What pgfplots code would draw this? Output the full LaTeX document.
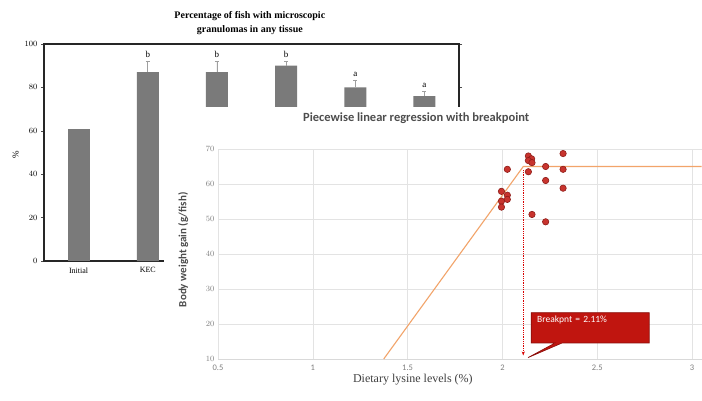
\documentclass[border=0pt]{standalone}
\usepackage{pgfplots}
\pgfplotsset{compat=1.18}
\usepackage{fontspec}
\setmainfont{Liberation Serif}
\newfontfamily\calfont{Carlito}
\usetikzlibrary{shapes.callouts,arrows.meta}
\definecolor{bargray}{HTML}{7A7A7A}
\definecolor{markred}{HTML}{C8342E}
\definecolor{markdark}{HTML}{8E1C18}
\definecolor{lineorange}{HTML}{F2A46A}
\definecolor{callred}{HTML}{C0150F}
\definecolor{calldark}{HTML}{8A0E0A}
\definecolor{tickgray}{HTML}{7F7F7F}
\definecolor{labgray}{HTML}{4D4D4D}

\pgfplotstableread{
x y e
1 87 5
2 87 5
3 90 2
4 80 3
5 76 2
}\bardata

\pgfplotstableread{
x y
2.32 68.7
2.137 68.0
2.154 67.2
2.137 66.7
2.156 66.1
2.228 65.0
2.026 64.2
2.32 64.2
2.137 63.5
2.228 61.0
2.32 58.8
1.995 57.9
2.026 56.8
1.995 55.1
2.026 55.6
1.995 53.4
2.156 51.3
2.228 49.2
}\scatterdata

\begin{document}
\begin{tikzpicture}
\useasboundingbox (0,0) rectangle (702pt,400pt);
\begin{axis}[
  at={(44pt,139pt)}, anchor=south west,
  scale only axis, width=415pt, height=217pt,
  xmin=-0.5, xmax=5.5, ymin=0, ymax=100,
  axis line style={line width=1.3pt, black!85},
  ytick={0,20,...,100},
  tick align=outside, major tick length=3pt,
  ytick style={black!70, line width=0.4pt},
  xtick={0,1,2,3,4,5},
  xticklabels={Initial,KEC,,,,},
  xtick style={draw=none},
  tick label style={font=\fontsize{8}{9}\selectfont},
  ylabel={\%}, ylabel style={font=\fontsize{9}{10}\selectfont, at={(axis description cs:-0.068,0.49)}, rotate=0, anchor=center},
  title={Percentage of fish with microscopic\\granulomas in any tissue},
  title style={font=\bfseries\fontsize{10}{14}\selectfont, align=center, at={(axis description cs:0.496,0.998)}, anchor=south},
  clip=false,
]
\addplot[ybar, bar width=22pt, fill=bargray, draw=none] coordinates {(0,61)};
\addplot[ybar, bar width=22pt, fill=bargray, draw=none,
  error bars/.cd, y dir=plus, y explicit,
  error bar style={color=gray!75, line width=0.8pt},
  error mark options={rotate=90, mark size=2pt, gray!75, line width=0.8pt}]
  table[x=x, y=y, y error=e]{\bardata};
\node[font=\fontsize{9}{10}\selectfont, anchor=south] at (axis cs:1,92.3) {b};
\node[font=\fontsize{9}{10}\selectfont, anchor=south] at (axis cs:2,92.3) {b};
\node[font=\fontsize{9}{10}\selectfont, anchor=south] at (axis cs:3,92.3) {b};
\node[font=\fontsize{9}{10}\selectfont, anchor=south] at (axis cs:4,83.3) {a};
\node[font=\fontsize{9}{10}\selectfont, anchor=south] at (axis cs:5,78.3) {a};
\end{axis}
\fill[white] (164pt,0pt) rectangle (702pt,293pt);
\begin{axis}[
  at={(218pt,41pt)}, anchor=south west,
  scale only axis, width=483.5pt, height=210pt,
  xmin=0.5, xmax=3.05, ymin=10, ymax=70,
  xtick={0.5,1,1.5,2,2.5,3},
  ytick={10,20,...,70},
  xticklabels={0.5,1,1.5,2,2.5,3},
  grid=major, grid style={gray!22, line width=0.5pt},
  axis line style={draw=none},
  major tick length=0pt,
  tick label style={font=\calfont\fontsize{8.5}{9}\selectfont, text=tickgray},
  xticklabel style={yshift=-2pt},
  title={Piecewise linear  regression with breakpoint},
  title style={font=\calfont\bfseries\fontsize{12.5}{13}\selectfont, text=labgray, at={(axis description cs:0.41,1.12)}, anchor=center},
  ylabel={Body weight gain (g/fish)},
  ylabel style={font=\calfont\bfseries\fontsize{11}{12}\selectfont, text=labgray, at={(axis description cs:-0.072,0.52)}, rotate=0, anchor=center},
  xlabel={Dietary lysine levels (\%)},
  xlabel style={font=\fontsize{12}{13}\selectfont, text=black!75, at={(axis description cs:0.403,-0.1)}, anchor=center},
  clip=false,
]
\draw[gray!30, line width=0.6pt] (axis cs:0.5,10) -- (axis cs:3.05,10);
\addplot[lineorange, line width=1.1pt] coordinates {(1.374,10) (2.11,65) (3.05,65)};
\draw[red!85!black, line width=0.8pt, densely dotted, -{Stealth[length=4pt,width=3pt]}] (axis cs:2.11,64) -- (axis cs:2.11,11);
\addplot[only marks, mark=*, mark size=3.2pt, mark options={fill=markred, draw=markdark, line width=0.6pt}] table[x=x,y=y]{\scatterdata};
\node[rectangle callout, fill=callred, draw=calldark, line width=0.6pt, text=white,
  minimum width=118pt, minimum height=30pt, text width=106pt, inner xsep=6pt, align=left,
  font=\calfont\fontsize{9.5}{10}\selectfont,
  callout absolute pointer={(axis cs:2.135,10.4)}] at (axis cs:2.463,18.9) {Breakpnt = 2.11\%\\[4pt]\strut};
\end{axis}
\end{tikzpicture}
\end{document}
